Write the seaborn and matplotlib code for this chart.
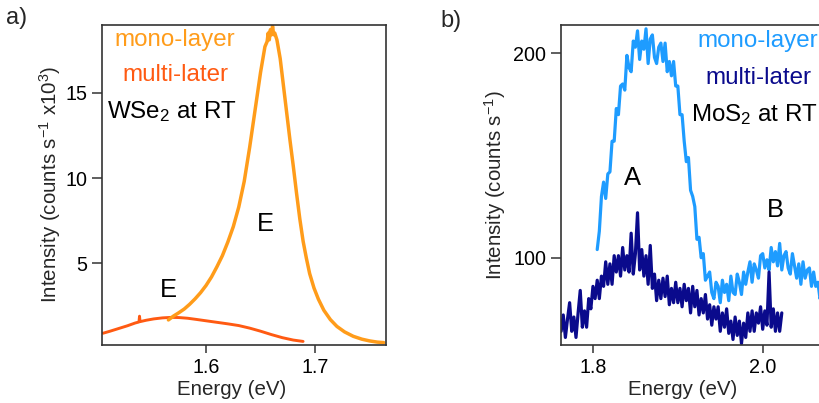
"""
Photoluminescence spectra of mono- and multi-layer WSe2 and MoS2 at room temperature
"""
import numpy as np
import pandas as pd
import matplotlib
matplotlib.use("Agg")
import matplotlib.pyplot as plt
import seaborn as sns

# ---- panel a: WSe2 (intensity in 10^3 counts/s) ----
wse2_mono_energy = [1.5655, 1.570, 1.575, 1.580, 1.585, 1.590, 1.595, 1.600, 1.605, 1.610,
                    1.615, 1.620, 1.625, 1.630, 1.635, 1.640, 1.645, 1.650, 1.654, 1.656,
                    1.657, 1.658, 1.659, 1.660, 1.661, 1.662, 1.663, 1.665, 1.668, 1.671,
                    1.674, 1.677, 1.680, 1.683, 1.686, 1.689, 1.692, 1.695, 1.699, 1.703,
                    1.708, 1.714, 1.720, 1.727, 1.735, 1.743, 1.750, 1.757, 1.763]
wse2_mono_counts = [1.68, 1.90, 2.10, 2.32, 2.60, 2.92, 3.28, 3.70, 4.20, 4.80,
                    5.45, 6.25, 7.15, 8.30, 9.80, 11.8, 14.0, 16.2, 17.7, 18.0,
                    18.5, 18.1, 18.7, 18.4, 18.9, 18.4, 18.5, 18.1, 17.0, 15.4,
                    13.8, 12.2, 10.7, 9.1, 7.6, 6.3, 5.3, 4.4, 3.55, 2.90,
                    2.25, 1.70, 1.30, 0.98, 0.72, 0.55, 0.45, 0.38, 0.35]

wse2_multi_energy = [1.5055, 1.512, 1.520, 1.528, 1.535, 1.5385, 1.539, 1.5395, 1.545, 1.552,
                     1.560, 1.568, 1.575, 1.583, 1.590, 1.600, 1.610, 1.620, 1.630, 1.640,
                     1.650, 1.660, 1.670, 1.680, 1.689]
wse2_multi_counts = [0.90, 1.02, 1.18, 1.34, 1.50, 1.56, 1.90, 1.58, 1.66, 1.74,
                     1.80, 1.83, 1.82, 1.78, 1.72, 1.63, 1.54, 1.45, 1.35, 1.20,
                     1.02, 0.82, 0.64, 0.50, 0.42]

# ---- panel b: MoS2 (counts/s), sampled every 2.5 meV ----
mos2_step = 0.0025
mos2_mono_start = 1.805
mos2_mono_counts = [104, 113, 130, 137, 129, 141, 142, 157, 157, 173,
                    170, 184, 185, 182, 199, 193, 191, 206, 203, 211,
                    197, 206, 202, 212, 195, 207, 209, 198, 195, 203,
                    205, 196, 205, 191, 196, 189, 196, 184, 184, 170,
                    170, 157, 147, 149, 133, 130, 125, 109, 110, 100,
                    102, 89, 91, 93, 83, 80, 88, 86, 78, 89,
                    83, 87, 79, 91, 83, 82, 92, 88, 82, 93,
                    87, 93, 98, 88, 97, 94, 90, 101, 102, 95,
                    99, 94, 105, 98, 103, 96, 107, 94, 101, 103,
                    95, 92, 102, 96, 90, 97, 87, 98, 90, 94,
                    95, 86, 93, 86, 88, 80, 91, 82, 88, 81,
                    90, 89, 83, 87, 82]

mos2_multi_start = 1.7625
mos2_multi_counts = [64, 72, 61, 70, 78, 64, 71, 61, 73, 84,
                     66, 74, 66, 80, 75, 86, 80, 89, 80, 91,
                     86, 98, 87, 97, 87, 101, 93, 101, 91, 105,
                     94, 101, 93, 112, 92, 102, 122, 94, 104, 91,
                     101, 87, 106, 85, 92, 79, 89, 80, 90, 81,
                     91, 77, 85, 78, 88, 78, 85, 76, 87, 79,
                     85, 73, 86, 76, 84, 72, 80, 73, 82, 70,
                     77, 67, 76, 70, 76, 64, 73, 66, 75, 63,
                     69, 60, 71, 62, 69, 58, 68, 61, 73, 64,
                     74, 64, 73, 68, 76, 65, 74, 67, 93, 66,
                     75, 64, 73, 64, 73]

ORANGE = "#FF9C1A"
RED_ORANGE = "#FF5A12"
LIGHT_BLUE = "#1E9CFF"
NAVY = "#0A0A8C"
SPINE = "#333333"

sns.set_theme(style="ticks")
plt.rcParams["font.family"] = ["Liberation Sans", "DejaVu Sans"]
plt.rcParams["mathtext.fontset"] = "custom"
plt.rcParams["mathtext.rm"] = "Liberation Sans"
plt.rcParams["mathtext.it"] = "Liberation Sans:italic"

mono_b = pd.DataFrame({
    "energy": mos2_mono_start + mos2_step * np.arange(len(mos2_mono_counts)),
    "counts": mos2_mono_counts,
})
multi_b = pd.DataFrame({
    "energy": mos2_multi_start + mos2_step * np.arange(len(mos2_multi_counts)),
    "counts": mos2_multi_counts,
})
mono_a = pd.DataFrame({"energy": wse2_mono_energy, "counts": wse2_mono_counts})
multi_a = pd.DataFrame({"energy": wse2_multi_energy, "counts": wse2_multi_counts})

fig = plt.figure(figsize=(8.2, 4.03), dpi=100)
ax_a = fig.add_axes([0.1244, 0.1439, 0.3463, 0.7953])
ax_b = fig.add_axes([0.6838, 0.1439, 0.3463, 0.7953])

sns.lineplot(data=multi_a, x="energy", y="counts", ax=ax_a, color=RED_ORANGE,
             lw=2.1, estimator=None, sort=False)
sns.lineplot(data=mono_a, x="energy", y="counts", ax=ax_a, color=ORANGE,
             lw=2.5, estimator=None, sort=False)
sns.lineplot(data=mono_b, x="energy", y="counts", ax=ax_b, color=LIGHT_BLUE,
             lw=2.3, estimator=None, sort=False)
sns.lineplot(data=multi_b, x="energy", y="counts", ax=ax_b, color=NAVY,
             lw=2.3, estimator=None, sort=False)

ax_a.set_xlim(1.5046, 1.765)
ax_a.set_ylim(0.21, 19.0)
ax_a.set_xticks([1.6, 1.7])
ax_a.set_yticks([5, 10, 15])
ax_b.set_xlim(1.762, 2.0966)
ax_b.set_ylim(57.3, 214.1)
ax_b.set_xticks([1.8, 2.0])
ax_b.set_yticks([100, 200])

ax_a.set_ylabel("Intensity (counts s$^{-1}$ x10$^{3}$)", fontsize=14.8)
ax_b.set_ylabel("Intensity (counts s$^{-1}$)", fontsize=14.8)

for ax, xl, yl in [(ax_a, 0.458, -0.183), (ax_b, 0.431, -0.231)]:
    ax.set_xlabel("Energy (eV)", fontsize=14.8)
    ax.xaxis.set_label_coords(xl, -0.140)
    ax.xaxis.label.set_va("center")
    ax.yaxis.set_label_coords(yl, 0.5)
    ax.yaxis.label.set_va("center")
    ax.tick_params(axis="both", direction="out", labelsize=14.2, color=SPINE,
                   width=1.1, labelcolor="black")
    ax.tick_params(axis="y", length=7.5, pad=3.0)
    ax.tick_params(axis="x", length=6.0, pad=3.5)
    for s in ax.spines.values():
        s.set_visible(True)
        s.set_color(SPINE)
        s.set_linewidth(1.2)

ann = dict(fontsize=17.4, ha="center", va="center")
ax_a.text(0.257, 0.952, "mono-layer", color=ORANGE, transform=ax_a.transAxes, **ann)
ax_a.text(0.257, 0.842, "multi-later", color=RED_ORANGE, transform=ax_a.transAxes, **ann)
ax_a.text(0.245, 0.727, "WSe$_2$ at RT", color="black", transform=ax_a.transAxes, **ann)
ax_a.text(1.6541, 7.30, "E", color="black", fontsize=18.4, ha="center", va="center")
ax_a.text(1.5654, 3.44, "E", color="black", fontsize=18.4, ha="center", va="center")

ax_b.text(0.695, 0.948, "mono-layer", color=LIGHT_BLUE, transform=ax_b.transAxes, **ann)
ax_b.text(0.695, 0.834, "multi-later", color=NAVY, transform=ax_b.transAxes, **ann)
ax_b.text(0.683, 0.718, "MoS$_2$ at RT", color="black", transform=ax_b.transAxes, **ann)
ax_b.text(1.8468, 138.8, "A", color="black", fontsize=18.4, ha="center", va="center")
ax_b.text(2.0153, 123.3, "B", color="black", fontsize=18.4, ha="center", va="center")

fig.text(17 / 820, 1 - 18 / 403, "a)", fontsize=17, ha="center", va="center")
fig.text(451 / 820, 1 - 21 / 403, "b)", fontsize=17, ha="center", va="center")

fig.savefig("out.png", dpi=100)
plt.close(fig)
